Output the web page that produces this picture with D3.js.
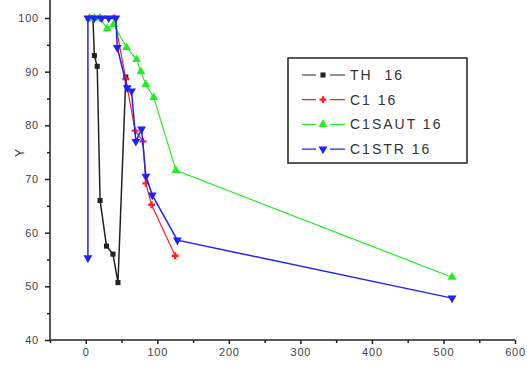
<!DOCTYPE html>
<html>
<head>
<meta charset="utf-8">
<script src="https://cdn.jsdelivr.net/npm/d3@7"></script>
<style>
  body { margin: 0; background: #fff; }
  svg { display: block; font-family: Arial, "Liberation Sans", sans-serif; }
</style>
</head>
<body>
<svg id="chart"></svg>
<script>
var width = 527, height = 365;

// series: [x, y]
var th16 = [[10,100],[12,93],[16,91],[20,66],[29,57.5],[38,56],[45,50.7],[56,89]];
var c116 = [[5,100],[20,100],[40,100],[56,88.6],[69,79],[80,77],[84,69.2],[92,65.2],[125,55.7]];
var c1saut16 = [[5,100],[12,100],[20,100],[30,98],[39,98.8],[57,94.5],[71,92.3],[77,90],[84,87.6],[95,85.2],[126,71.6],[512,51.7]];
var c1str16 = [[3,55.3],[3,100],[12,100],[22,100],[32,100],[42,100],[44,94.5],[58,87],[64,86.4],[70,77],[78,79.3],[84,70.5],[93,67],[128,58.6],[512,47.8]];

var seriesNames = ["TH  16", "C1 16", "C1SAUT 16", "C1STR 16"];
var seriesColors = ["#222222", "#ff2020", "#22ee22", "#2020ff"];
var seriesSymbols = [d3.symbolSquare, d3.symbolCross, d3.symbolTriangle, d3.symbolTriangle];
var allSeries = [th16, c116, c1saut16, c1str16];

var xTicks = [0, 100, 200, 300, 400, 500, 600];
var yTicks = [40, 50, 60, 70, 80, 90, 100];

var svg = d3.select("#chart").attr("width", width).attr("height", height);

var x = d3.scaleLinear().domain([-50, 600]).range([50, 515]);
var y = d3.scaleLinear().domain([40, 100]).range([340, 18]);

function symSize(i) { return i == 0 ? 26 : (i == 1 ? 26 : 34); }

// axes
var xAxis = svg.append("g").attr("transform", "translate(0,340)")
    .call(d3.axisBottom(x).tickValues(xTicks).tickSize(4).tickPadding(4).tickFormat(d3.format("d")));
svg.append("g").attr("transform", "translate(0,340)")
    .call(d3.axisBottom(x).tickValues(d3.range(-50, 600, 100)).tickSize(3).tickFormat(""))
    .select(".domain").remove();

var yAxis = svg.append("g").attr("transform", "translate(50,0)")
    .call(d3.axisLeft(y).tickValues(yTicks).tickSize(5).tickPadding(6).tickFormat(d3.format("d")));
svg.append("g").attr("transform", "translate(50,0)")
    .call(d3.axisLeft(y).tickValues(d3.range(45, 105, 10)).tickSize(3).tickFormat(""))
    .select(".domain").remove();

// extend y axis to top edge
yAxis.select(".domain").attr("d", "M0," + y(40) + "V0");
xAxis.select(".domain").attr("d", "M" + x(-50) + ",0H" + x(600));

svg.selectAll(".domain, .tick line").attr("stroke", "#222").attr("stroke-width", 1.5);
svg.selectAll(".tick text").attr("font-size", 11).attr("letter-spacing", 0.8).attr("fill", "#444");

svg.append("text")
    .attr("transform", "translate(24,153) rotate(-90)")
    .attr("text-anchor", "middle")
    .attr("font-size", 12)
    .attr("fill", "#333")
    .text("Y");

var line = d3.line().x(function(d){ return x(d[0]); }).y(function(d){ return y(d[1]); });

allSeries.forEach(function(data, i) {
  var col = seriesColors[i];
  svg.append("path")
      .datum(data)
      .attr("d", line)
      .attr("fill", "none")
      .attr("stroke", col)
      .attr("stroke-width", i == 0 || i == 3 ? 1.5 : 1.2);

  svg.selectAll(".m" + i)
      .data(data)
      .enter().append("path")
      .attr("class", "m" + i)
      .attr("transform", function(d){
        return "translate(" + x(d[0]) + "," + y(d[1]) + ")" + (i == 3 ? " rotate(180)" : "");
      })
      .attr("d", d3.symbol().type(seriesSymbols[i]).size(symSize(i)))
      .attr("fill", col);
});

// legend
var legend = svg.append("g");
legend.append("rect")
    .attr("x", 288).attr("y", 58)
    .attr("width", 179).attr("height", 105)
    .attr("fill", "#fff")
    .attr("stroke", "#222")
    .attr("stroke-width", 1.5);

seriesNames.forEach(function(name, i) {
  var ly = 75 + i * 24.7;
  var col = seriesColors[i];
  legend.append("line")
      .attr("x1", 302).attr("x2", 345)
      .attr("y1", ly).attr("y2", ly)
      .attr("stroke", col).attr("stroke-width", 1.2);
  legend.append("rect")
      .attr("x", 316).attr("y", ly - 5).attr("width", 14).attr("height", 10)
      .attr("fill", "#fff");
  legend.append("path")
      .attr("transform", "translate(323," + ly + ")" + (i == 3 ? " rotate(180)" : ""))
      .attr("d", d3.symbol().type(seriesSymbols[i]).size(symSize(i)))
      .attr("fill", col);
  legend.append("text")
      .attr("x", 350).attr("y", ly + 5)
      .attr("font-size", 14)
      .attr("letter-spacing", 2)
      .attr("fill", "#333")
      .attr("xml:space", "preserve")
      .style("white-space", "pre")
      .text(name);
});
</script>
</body>
</html>
